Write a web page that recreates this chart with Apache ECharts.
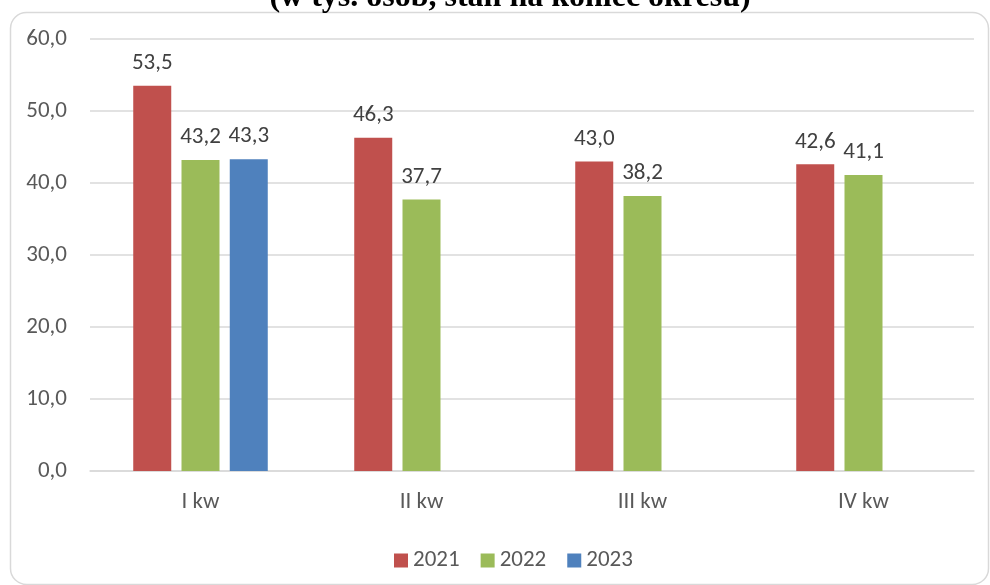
<!DOCTYPE html>
<html><head><meta charset="utf-8">
<script src="https://cdn.jsdelivr.net/npm/echarts@6/dist/echarts.min.js"></script>
<style>html,body{margin:0;padding:0;background:#fff}#c{width:990px;height:585px}</style>
</head><body><div id="c"></div>
<script>
const categories = ['I kw', 'II kw', 'III kw', 'IV kw'];
const s2021 = [53.5, 46.3, 43.0, 42.6];
const s2022 = [43.2, 37.7, 38.2, 41.1];
const s2023 = [43.3, null, null, null];
const seriesNames = ['2021', '2022', '2023'];
const colors = ['#C0504D', '#9BBB59', '#4F81BD'];
const titleText = '(w tys. osób, stan na koniec okresu)';

const FONT = 'Carlito, Lato, "Open Sans", sans-serif';
const FS = 23;
const fmt = v => v.value == null ? '' : v.value.toFixed(1).replace('.', ',');
const chart = echarts.init(document.getElementById('c'));
const mk = (name, data, color) => ({
  name, type: 'bar', data, barWidth: 38, barGap: '27%',
  itemStyle: { color },
  label: { show: true, position: 'top', distance: 11, formatter: fmt,
    color: '#404040', fontSize: FS, fontFamily: FONT }
});
chart.setOption({
  animation: false,
  color: colors,
  graphic: [
    { type: 'rect', left: 8, top: 10, shape: { width: 978, height: 572, r: 16 },
      style: { fill: 'none', stroke: '#d9d9d9', lineWidth: 1.5 }, z: -1 },
    { type: 'text', x: 510, y: 14, style: { text: titleText, fill: '#000',
      font: 'bold 32px "Liberation Serif", "Times New Roman", serif', align: 'center', verticalAlign: 'bottom' } }
  ],
  grid: { left: 90, right: 16, top: 39, bottom: 114, containLabel: false },
  legend: { top: 544, left: 389, itemWidth: 14, itemHeight: 14, itemGap: 21,
    icon: 'rect', textStyle: { fontSize: FS, color: '#595959', fontFamily: FONT },
    data: seriesNames },
  xAxis: { type: 'category', data: categories,
    axisLine: { lineStyle: { color: '#d9d9d9', width: 1.5 } }, axisTick: { show: false },
    axisLabel: { color: '#595959', fontSize: FS, fontFamily: FONT, margin: 20 } },
  yAxis: { type: 'value', min: 0, max: 60, interval: 10,
    axisLine: { show: false }, axisTick: { show: false },
    splitLine: { lineStyle: { color: '#d9d9d9', width: 1.5 } },
    axisLabel: { color: '#595959', fontSize: FS, fontFamily: FONT, margin: 23,
      formatter: v => v.toFixed(1).replace('.', ',') } },
  series: [mk(seriesNames[0], s2021, colors[0]), mk(seriesNames[1], s2022, colors[1]), mk(seriesNames[2], s2023, colors[2])]
});
</script></body></html>
